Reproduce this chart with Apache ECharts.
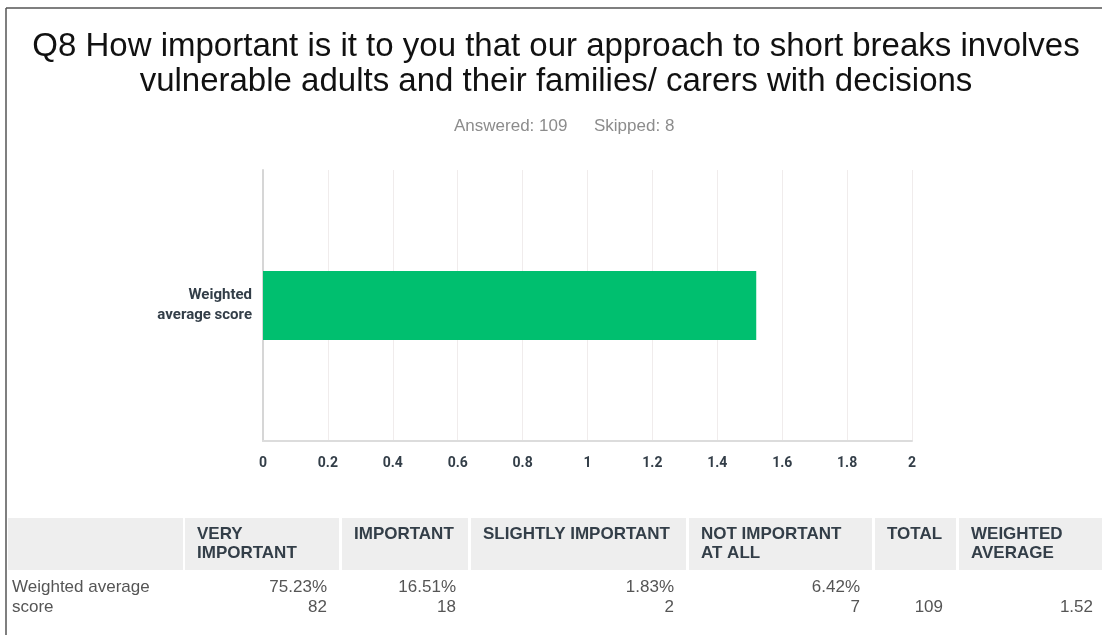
<!DOCTYPE html>
<html>
<head>
<meta charset="utf-8">
<style>
  html, body { margin: 0; padding: 0; background: #fff; }
  #chart { width: 1102px; height: 635px; }
</style>
<script src="https://cdn.jsdelivr.net/npm/echarts@6/dist/echarts.min.js"></script>
</head>
<body>
<div id="chart"></div>
<script>
// chart data
var categories = ['Weighted\naverage score']
var scores = [1.52]
var xTicks = [0, 0.2, 0.4, 0.6, 0.8, 1, 1.2, 1.4, 1.6, 1.8, 2]

// table data
var tableHeaders = ['', 'VERY\nIMPORTANT', 'IMPORTANT', 'SLIGHTLY IMPORTANT', 'NOT IMPORTANT\nAT ALL', 'TOTAL', 'WEIGHTED\nAVERAGE']
var rowLabel = 'Weighted average\nscore'
var percents = ['75.23%', '16.51%', '1.83%', '6.42%']
var counts = ['82', '18', '2', '7']
var total = '109'
var weightedAvg = '1.52'
var answered = 109
var skipped = 8

// column edges of the table [left, right]
var cols = [[8, 183], [185, 339], [342, 468], [471, 686], [689, 872], [875, 956], [959, 1102]]

var myChart = echarts.init(document.getElementById('chart'))

var cellFont = '17px "Liberation Sans", Arial'
var graphics = []
// frame lines
graphics.push({ type: 'line', shape: { x1: 6, y1: 8, x2: 1102, y2: 8 }, style: { stroke: '#555', lineWidth: 1.5 } })
graphics.push({ type: 'line', shape: { x1: 6, y1: 8, x2: 6, y2: 635 }, style: { stroke: '#555', lineWidth: 1.5 } })
// answered / skipped
graphics.push({ type: 'text', left: 454, top: 118, style: { text: 'Answered: ' + answered, font: cellFont, fill: '#8c8c8c' } })
graphics.push({ type: 'text', left: 594, top: 118, style: { text: 'Skipped: ' + skipped, font: cellFont, fill: '#8c8c8c' } })

// table header
cols.forEach(function (c, i) {
    graphics.push({ type: 'rect', shape: { x: c[0], y: 518, width: c[1] - c[0], height: 52 }, style: { fill: '#eeeeee' } })
    if (tableHeaders[i]) {
        graphics.push({
            type: 'text', x: c[0] + 12, y: 525,
            style: { text: tableHeaders[i], font: 'bold 17px "Liberation Sans", Arial', fill: '#333e48', lineHeight: 19 }
        })
    }
})
// table row
graphics.push({ type: 'text', x: 12, y: 577, style: { text: rowLabel, font: cellFont, fill: '#555', lineHeight: 20 } })
percents.forEach(function (p, i) {
    var c = cols[i + 1]
    graphics.push({
        type: 'text', x: c[1] - 12, y: 577,
        style: { text: p + '\n' + counts[i], font: cellFont, fill: '#555', lineHeight: 20, align: 'right' }
    })
})
graphics.push({ type: 'text', x: cols[5][1] - 13, y: 577, style: { text: '\n' + total, font: cellFont, fill: '#555', lineHeight: 20, align: 'right' } })
graphics.push({ type: 'text', x: cols[6][1] - 9, y: 577, style: { text: '\n' + weightedAvg, font: cellFont, fill: '#555', lineHeight: 20, align: 'right' } })

var option = {
    animation: false,
    title: {
        text: 'Q8 How important is it to you that our approach to short breaks involves\nvulnerable adults and their families/ carers with decisions',
        left: 551,
        top: 24,
        textAlign: 'center',
        textStyle: {
            fontFamily: '"Liberation Sans", Arial',
            fontWeight: 'normal',
            fontSize: 33,
            lineHeight: 35,
            color: '#111'
        }
    },
    grid: { left: 263, right: 190, top: 170, bottom: 194, containLabel: false },
    xAxis: {
        type: 'value',
        min: 0,
        max: 2,
        interval: 0.2,
        axisLine: { show: true, lineStyle: { color: '#dcdcdc', width: 2 } },
        axisTick: { show: false },
        splitLine: { show: true, lineStyle: { color: '#f0ecec', width: 1 } },
        axisLabel: {
            margin: 15,
            fontFamily: 'Roboto',
            fontWeight: 'bold',
            fontSize: 14,
            color: '#333e48',
            formatter: function (v) { return String(+v.toFixed(1)) }
        }
    },
    yAxis: {
        type: 'category',
        data: categories,
        axisLine: { show: true, lineStyle: { color: '#d6d6d6', width: 2 } },
        axisTick: { show: false },
        axisLabel: {
            margin: 11,
            fontFamily: 'Roboto',
            fontWeight: 'bold',
            fontSize: 15,
            lineHeight: 20,
            color: '#333e48',
            align: 'right'
        }
    },
    series: [{
        type: 'bar',
        data: scores,
        barWidth: 69,
        itemStyle: { color: '#00bf6f' }
    }],
    graphic: graphics
}
myChart.setOption(option)
</script>
</body>
</html>
